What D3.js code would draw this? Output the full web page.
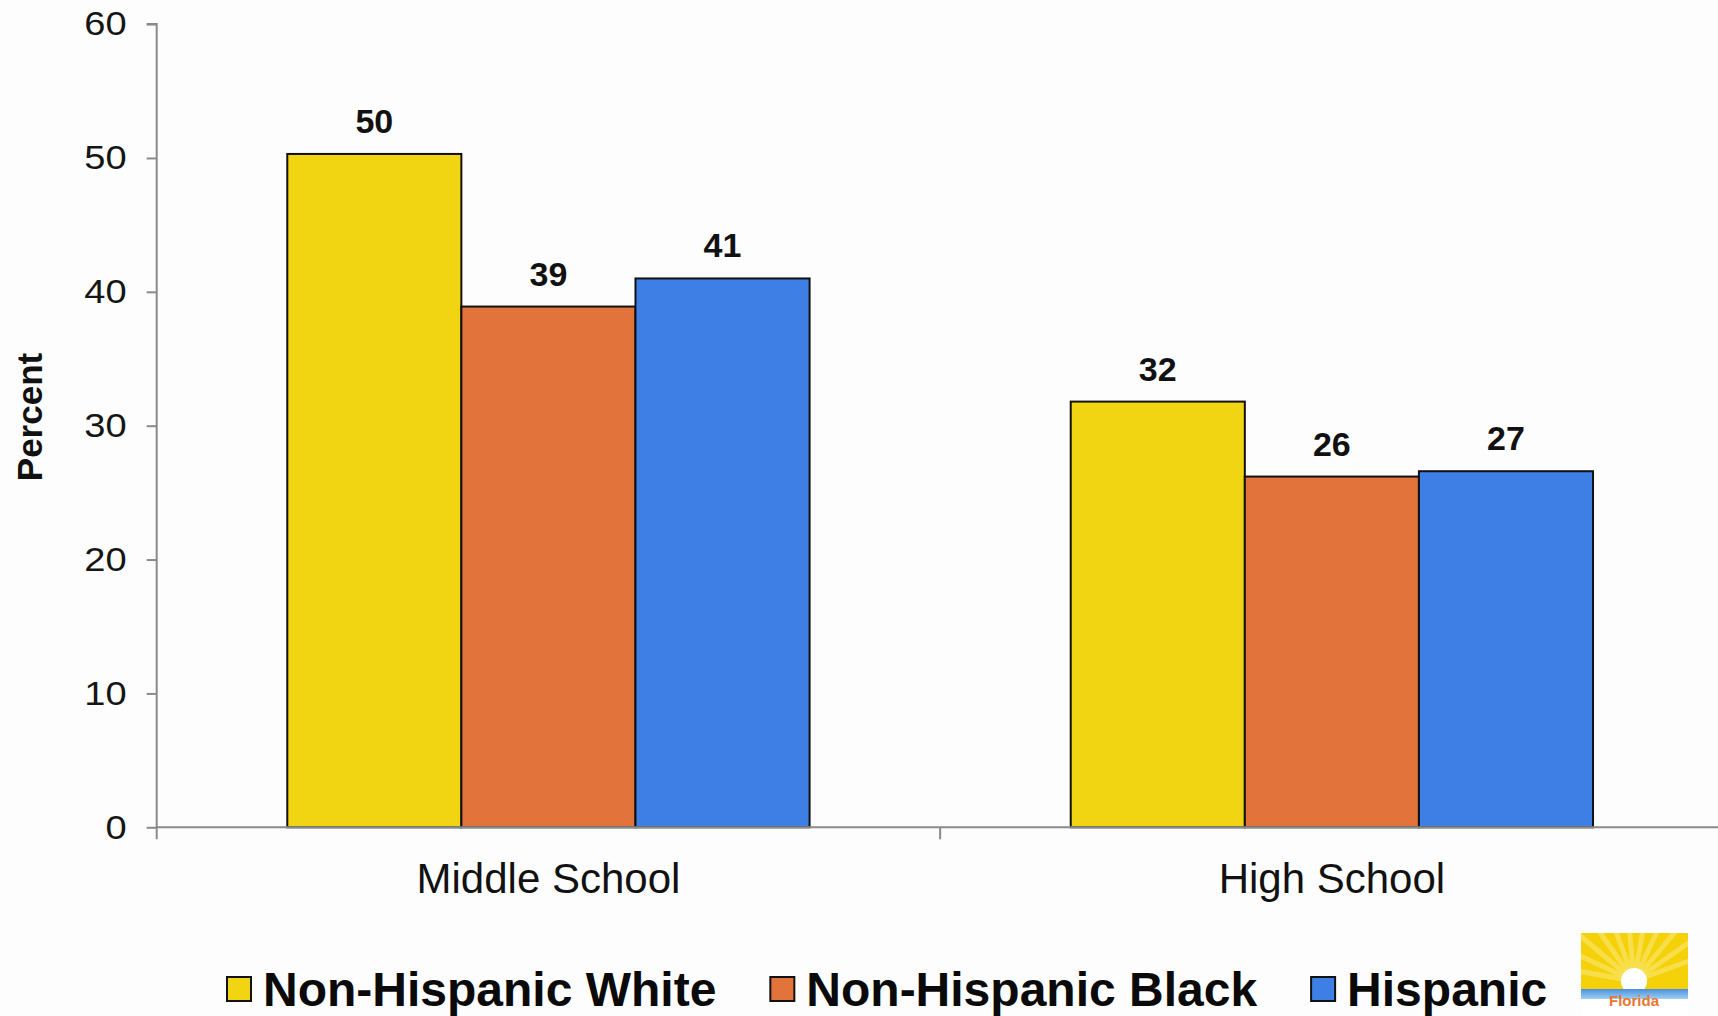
<!DOCTYPE html>
<html>
<head>
<meta charset="utf-8">
<script src="https://cdn.jsdelivr.net/npm/d3@7"></script>
<style>
  html, body { margin: 0; padding: 0; background: #fdfdfd; overflow: hidden; }
  svg { display: block; }
  text { font-family: "Liberation Sans", Arial, Helvetica, sans-serif; }
</style>
</head>
<body>
<svg id="chart" width="1718" height="1016"></svg>
<script>
const categories = ["Middle School", "High School"];
const seriesNames = ["Non-Hispanic White", "Non-Hispanic Black", "Hispanic"];
const whiteValues = [50.3, 31.8];
const blackValues = [38.9, 26.2];
const hispanicValues = [41.0, 26.6];
const valueLabels = [["50", "32"], ["39", "26"], ["41", "27"]];
const yTicks = [0, 10, 20, 30, 40, 50, 60];
const seriesColors = ["#F1D412", "#E2733B", "#3D7FE4"];

const seriesValues = [whiteValues, blackValues, hispanicValues];

const svg = d3.select("#chart");
svg.append("rect").attr("width", 1718).attr("height", 1016).attr("fill", "#fdfdfd");

const x0 = d3.scaleBand().domain(categories).range([156.7, 1723.6]).paddingInner(0).paddingOuter(0);
const x1 = d3.scaleBand().domain(seriesNames).range([0, x0.bandwidth()]).paddingInner(0).paddingOuter(0.75);
const y = d3.scaleLinear().domain([0, 60]).range([827.3, 24.1]);

// bars
const rows = [];
seriesNames.forEach((s, si) => {
  categories.forEach((c, ci) => {
    rows.push({ s, si, c, ci, v: seriesValues[si][ci], label: valueLabels[si][ci] });
  });
});

const g = svg.append("g");
g.selectAll("rect.bar").data(rows).join("rect")
  .attr("class", "bar")
  .attr("x", d => x0(d.c) + x1(d.s))
  .attr("y", d => y(d.v))
  .attr("width", x1.bandwidth())
  .attr("height", d => y(0) - y(d.v))
  .attr("fill", d => seriesColors[d.si])
  .attr("stroke", "#111")
  .attr("stroke-width", 2);

g.selectAll("text.vl").data(rows).join("text")
  .attr("class", "vl")
  .attr("x", d => x0(d.c) + x1(d.s) + x1.bandwidth() / 2)
  .attr("y", d => y(d.v) - 21)
  .attr("text-anchor", "middle")
  .attr("font-size", 34)
  .attr("font-weight", "bold")
  .attr("fill", "#111")
  .text(d => d.label);

// y axis
const yAxis = d3.axisLeft(y).tickValues(yTicks).tickSize(10).tickPadding(20);
const yg = svg.append("g").attr("transform", `translate(${x0.range()[0]},0)`).call(yAxis);
yg.select(".domain").attr("stroke", "#8a8a8a").attr("stroke-width", 2)
  .attr("d", `M-10,${y(60)}H0V${y(0) + 12}`);
yg.selectAll(".tick line").attr("stroke", "#8a8a8a").attr("stroke-width", 2);
yg.selectAll(".tick text").attr("font-size", 34).attr("fill", "#151515")
  .attr("font-family", '"Liberation Sans", Arial, sans-serif')
  .attr("transform", "scale(1.12,1)")
  .attr("x", -30 / 1.12);

// x axis
const xAxis = d3.axisBottom(x0).tickSize(0).tickPadding(0).tickFormat("");
const xg = svg.append("g").attr("transform", `translate(0,${y(0)})`).call(xAxis);
xg.select(".domain").attr("stroke", "#8a8a8a").attr("stroke-width", 2)
  .attr("d", `M${x0.range()[0]},0H${x0.range()[1]}`);
xg.selectAll(".tick").remove();
// category boundary tick
xg.append("line")
  .attr("x1", x0("High School")).attr("x2", x0("High School"))
  .attr("y1", 0).attr("y2", 12)
  .attr("stroke", "#8a8a8a").attr("stroke-width", 2);
xg.selectAll("text.cat").data(categories).join("text")
  .attr("class", "cat")
  .attr("x", d => x0(d) + x0.bandwidth() / 2)
  .attr("y", 66)
  .attr("text-anchor", "middle")
  .attr("font-size", 42)
  .attr("fill", "#111")
  .text(d => d);

// y title
svg.append("text")
  .attr("transform", "translate(42,417) rotate(-90)")
  .attr("text-anchor", "middle")
  .attr("font-size", 35)
  .attr("font-weight", "bold")
  .attr("fill", "#111")
  .text("Percent");

// legend
const legend = svg.append("g");
let lx = 227;
seriesNames.forEach((s, i) => {
  legend.append("rect")
    .attr("x", lx).attr("y", 977).attr("width", 24).attr("height", 24)
    .attr("fill", seriesColors[i]).attr("stroke", "#111").attr("stroke-width", 2);
  const t = legend.append("text")
    .attr("x", lx + 36).attr("y", 1006)
    .attr("font-size", 48).attr("font-weight", "bold").attr("fill", "#0a0a0a")
    .text(s);
  const w = t.node().getComputedTextLength();
  lx = lx + 36 + w + 54;
});

// Florida logo
const logo = svg.append("g").attr("transform", "translate(1581,933)");
const defs = svg.append("defs");
const grad = defs.append("linearGradient").attr("id", "sea").attr("x1", 0).attr("y1", 0).attr("x2", 0).attr("y2", 1);
grad.append("stop").attr("offset", "0%").attr("stop-color", "#4a8fe0");
grad.append("stop").attr("offset", "100%").attr("stop-color", "#9fd0f0");
defs.append("clipPath").attr("id", "logoClip").append("rect").attr("width", 107).attr("height", 83);
const lc = logo.append("g").attr("clip-path", "url(#logoClip)");
lc.append("rect").attr("width", 107).attr("height", 83).attr("fill", "#F5D10A");
const rayAngles = d3.range(-170, -5, 15);
lc.selectAll("line.ray").data(rayAngles).join("line")
  .attr("x1", 53).attr("y1", 48)
  .attr("x2", a => 53 + 120 * Math.cos(a * Math.PI / 180))
  .attr("y2", a => 48 + 120 * Math.sin(a * Math.PI / 180))
  .attr("stroke", "#F9E35A").attr("stroke-width", 5).attr("opacity", 0.8);
lc.append("circle").attr("cx", 53).attr("cy", 48).attr("r", 13).attr("fill", "#ffffff");
lc.append("rect").attr("y", 56).attr("width", 107).attr("height", 27).attr("fill", "#ffffff");
lc.append("rect").attr("y", 56).attr("width", 107).attr("height", 10).attr("fill", "url(#sea)");
logo.append("text").attr("x", 53).attr("y", 73).attr("text-anchor", "middle")
  .attr("font-size", 15).attr("font-weight", "bold").attr("fill", "#E8762E")
  .text("Florida");
</script>
</body>
</html>
